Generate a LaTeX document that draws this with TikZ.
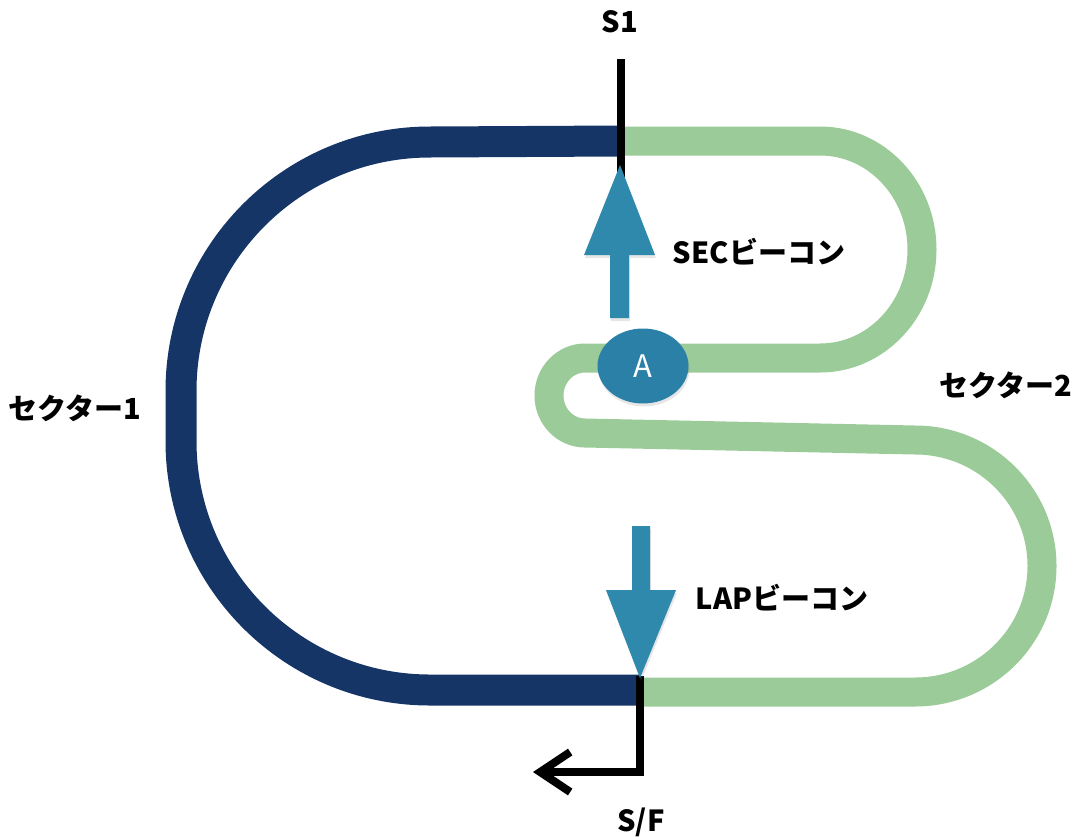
\documentclass[tikz,border=0pt]{standalone}
\usepackage{fontspec}
\setmainfont{Noto Sans CJK JP}
\usetikzlibrary{arrows.meta,shadows,shapes.geometric}
\definecolor{trackblue}{HTML}{153566}
\definecolor{trackgreen}{HTML}{9BCB98}
\definecolor{beacon}{HTML}{2F89AD}
\definecolor{nodeA}{HTML}{2A80A6}
\begin{document}
\begin{tikzpicture}[x=1pt,y=-1pt,
  bluetrack/.style={draw=trackblue,line width=31pt},
  greentrack/.style={draw=trackgreen,line width=29pt},
  blackline/.style={draw=black,line width=8pt},
  beaconarrow/.style={fill=beacon,draw=none,drop shadow={opacity=0.2,shadow xshift=1pt,shadow yshift=-3pt}},
  lbl/.style={font=\fontsize{29}{34}\selectfont\bfseries,inner sep=0pt,anchor=center}]
\useasboundingbox (0,0) rectangle (1078,836);
% sector 1 (blue)
\draw[bluetrack] (621,141) -- (430,142)
  arc[start angle=270,end angle=180,x radius=249,y radius=249] -- (181,441)
  arc[start angle=180,end angle=90,x radius=249,y radius=249] -- (640,690);
% sector 2 (green)
\draw[greentrack] (621,141) -- (820,141)
  arc[start angle=270,end angle=450,x radius=102,y radius=108.5] -- (585,358)
  arc[start angle=270,end angle=90,x radius=36,y radius=37.5] -- (915,440)
  arc[start angle=270,end angle=450,x radius=127,y radius=126] -- (640,692);
% S1 line
\coordinate (s1top) at (621,59);
\coordinate (s1bot) at (621,180);
\draw[blackline] (s1top) -- (s1bot);
% S/F line
\coordinate (sfa) at (640,676);
\coordinate (sfend) at (533,772);
\draw[blackline,-{Straight Barb[length=30pt,width=40pt]}] (sfa) |- (sfend);
% SEC beacon arrow
\path[beaconarrow] (610,318) -- (610,255) -- (584,255) -- (620,165) -- (655,255) -- (629,255) -- (629,318) -- cycle;
% LAP beacon arrow
\path[beaconarrow] (632,526) -- (650,526) -- (650,590) -- (676,590) -- (640,678) -- (606,590) -- (632,590) -- cycle;
% node A
\node[ellipse,fill=nodeA,minimum width=91pt,minimum height=75pt,inner sep=0pt,
  drop shadow={opacity=0.2,shadow xshift=1pt,shadow yshift=-3pt},
  text=white,font=\fontsize{31}{34}\selectfont] (A) at (643,366) {A};
% labels
\node[lbl] (s1) at (620,22) {S1};
\node[lbl] (sf) at (641,822) {S/F};
\node[lbl] (sec1) at (75,408) {セクター1};
\node[lbl] (sec2) at (1006,385) {セクター2};
\node[lbl] (secb) at (759,252) {SECビーコン};
\node[lbl] (lapb) at (782,598) {LAPビーコン};
\end{tikzpicture}
\end{document}
